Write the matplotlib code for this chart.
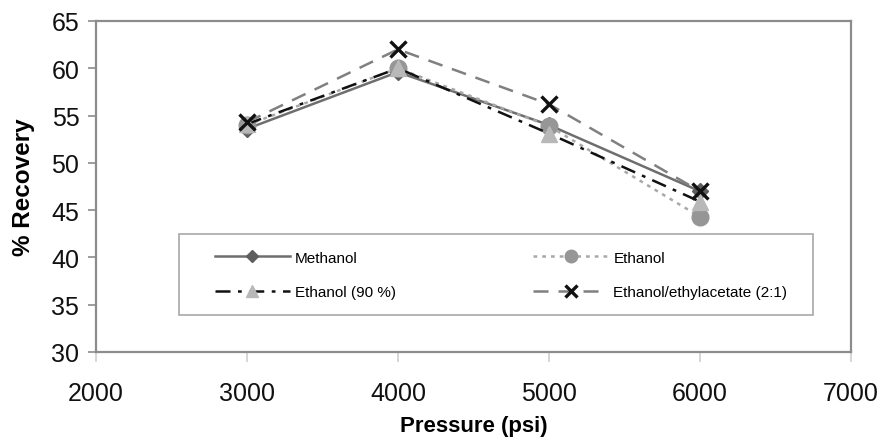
import matplotlib
matplotlib.use("Agg")
import matplotlib.pyplot as plt
from matplotlib.patches import Rectangle

pressure = [3000, 4000, 5000, 6000]
methanol = [53.6, 59.6, 54.0, 47.0]
ethanol = [54.0, 60.0, 53.9, 44.3]
ethanol90 = [54.1, 60.0, 53.1, 45.9]
ethanol_ea = [54.3, 62.0, 56.2, 47.0]

plt.rcParams['font.family'] = ['Liberation Sans', 'DejaVu Sans']

fig = plt.figure(figsize=(8.82, 4.39), dpi=100)
ax = fig.add_axes([0.1088, 0.1959, 0.856, 0.754])

h1, = ax.plot(pressure, methanol, color='#6e6e6e', lw=1.8, marker='D', ms=8,
              mfc='#5e5e5e', mec='#5e5e5e', label='Methanol', zorder=3)
h2, = ax.plot(pressure, ethanol, color='#a8a8a8', lw=1.8, ls=(0, (1.5, 2)), marker='o', ms=12,
              mfc='#969696', mec='#969696', label='Ethanol', zorder=4)
h3, = ax.plot(pressure, ethanol90, color='#111111', lw=1.8, ls=(0, (6, 3, 1.5, 3)), marker='^', ms=12,
              mfc='#b8b8b8', mec='#b8b8b8', label='Ethanol (90 %)', zorder=5)
h4, = ax.plot(pressure, ethanol_ea, color='#808080', lw=1.8, ls=(0, (6, 4)), marker='x', ms=11,
              mew=2.4, mec='#111111', label='Ethanol/ethylacetate (2:1)', zorder=6)

ax.set_xlim(2000, 7000)
ax.set_ylim(30, 65)
ax.set_xticks([2000, 3000, 4000, 5000, 6000, 7000])
ax.set_yticks([30, 35, 40, 45, 50, 55, 60, 65])

for s in ['top', 'right', 'left', 'bottom']:
    ax.spines[s].set_color('#8c8c8c')
    ax.spines[s].set_linewidth(1.6)
ax.tick_params(axis='y', direction='out', length=6, width=1.2, color='#8c8c8c',
               labelsize=18, labelcolor='#111111', pad=6)
ax.tick_params(axis='x', direction='out', length=7, width=1.2, color='#d0d0d0',
               labelsize=18, labelcolor='#111111', pad=14)

ax.set_xlabel('Pressure (psi)', fontsize=16, fontweight='bold', labelpad=7)
ax.set_ylabel('% Recovery', fontsize=17.5, fontweight='bold', labelpad=12)

# legend frame
ax.add_patch(Rectangle((0.110, 0.112), 0.840, 0.244, transform=ax.transAxes,
                       facecolor='white', edgecolor='#a8a8a8', lw=1.2, zorder=7))

leg = ax.legend(handles=[h1, h3, h2, h4], loc='upper left',
                bbox_to_anchor=(0.1576, 0.306), ncol=2, fontsize=11,
                handlelength=4.9, handletextpad=0.33, columnspacing=9.0,
                frameon=False, borderpad=0, borderaxespad=0,
                labelspacing=1.35, markerscale=0.75)
leg.set_zorder(8)

fig.savefig('out.png', dpi=100)
